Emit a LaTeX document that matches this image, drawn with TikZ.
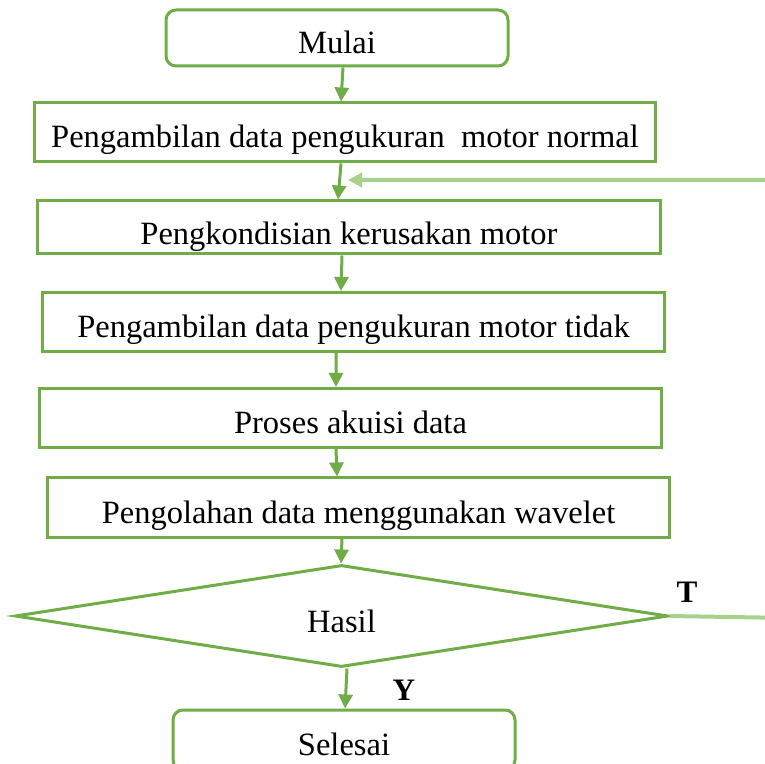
\documentclass[tikz,border=0pt]{standalone}
\usepackage{fontspec}
\setmainfont{Liberation Serif}
\usetikzlibrary{arrows.meta,shapes.geometric}
\definecolor{flowgreen}{HTML}{70AD47}
\definecolor{backgreen}{HTML}{A9D18E}
\tikzset{
  box/.style={draw=flowgreen, line width=1.2pt, rectangle, inner sep=0pt,
    minimum height=23.6pt, text height=14.4pt, text depth=2pt,
    font=\fontsize{13}{15}\selectfont},
  terminal/.style={box, rounded corners=4pt},
  decision/.style={draw=flowgreen, line width=1.2pt, diamond, inner sep=0pt,
    minimum width=261.2pt, minimum height=40.8pt, aspect=6.4,
    font=\fontsize{13}{15}\selectfont},
  arr/.style={draw=flowgreen, line width=1.2pt, -{Triangle[width=5.6pt,length=5.6pt]}},
  yesno/.style={font=\bfseries\fontsize{12.5}{14}\selectfont}
}
\begin{document}
\begin{tikzpicture}[x=0.4pt,y=-0.4pt]
      \useasboundingbox (0,0) rectangle (765,764);

      \node[terminal, minimum width=136.8pt, minimum height=22.4pt] (mulai) at (337,38) {Mulai};
      \node[box, minimum width=248pt] (normal) at (345,132.5) {Pengambilan data pengukuran\ \ motor normal};
      \node[box, minimum width=248.8pt, minimum height=21.2pt, text height=14pt, text depth=0pt] (rusak) at (349,227.5) {Pengkondisian kerusakan motor};
      \node[box, minimum width=248.4pt] (tidak) at (353.5,322) {Pengambilan data pengukuran motor tidak};
      \node[box, minimum width=248.4pt] (akuisi) at (350.5,418) {Proses akuisi data};
      \node[box, minimum width=248.4pt] (wavelet) at (358.5,507.5) {Pengolahan data menggunakan wavelet};
      \node[decision, text height=13pt, text depth=0pt] (hasil) at (341.5,616) {Hasil};
      \node[terminal, minimum width=136.8pt, minimum height=24pt] (selesai) at (344,740) {Selesai};

      \node[yesno] (y) at (404,690) {Y};
      \node[yesno] (t) at (687,592) {T};

      \coordinate (back) at (348,180);

      \draw[arr] ([xshift=2.4pt]mulai.south) -- ([xshift=-1.6pt]normal.north);
      \draw[arr] ([xshift=-1.6pt]normal.south) -- ([xshift=-4.4pt]rusak.north);
      \draw[arr] ([xshift=-2.8pt]rusak.south) -- ([xshift=-5pt]tidak.north);
      \draw[arr] ([xshift=-7pt]tidak.south) -- ([xshift=-5.8pt]akuisi.north);
      \draw[arr] ([xshift=-5.8pt]akuisi.south) -- ([xshift=-8.6pt]wavelet.north);
      \draw[arr] ([xshift=-6.6pt]wavelet.south) -- ([xshift=-0.2pt]hasil.north);
      \draw[arr] ([xshift=2.2pt]hasil.south) -- ([xshift=0.4pt]selesai.north);

      \draw[backgreen, line width=1.6pt, -{Triangle[width=5.6pt,length=5.6pt]}]
        (hasil.east) -- (790,618) |- (back);
\end{tikzpicture}
\end{document}
